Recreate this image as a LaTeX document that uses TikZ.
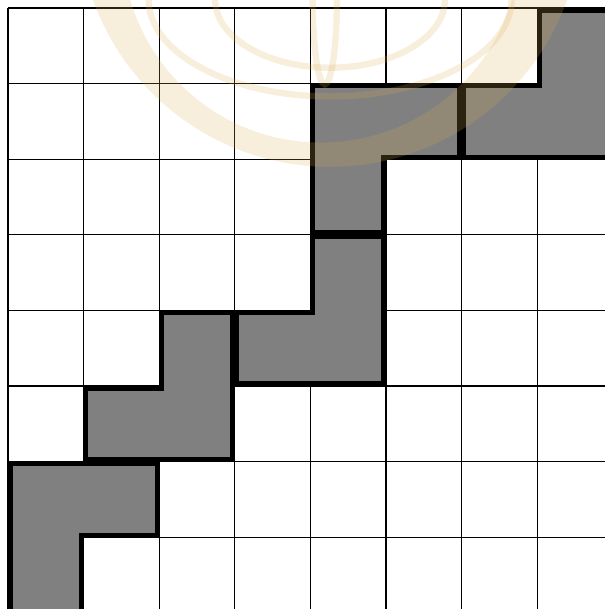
\documentclass[tikz,border=0pt]{standalone}
\usepackage{tikz}

\begin{document}
\begin{tikzpicture}[gridline/.style={draw=black,line width=0.5pt},
                    piece/.style={draw=black,fill=gray,line width=1.8pt,line join=miter},
                    wm/.style={fill={rgb,255:red,220;green,172;blue,80},opacity=0.2},
                    wmline/.style={draw={rgb,255:red,220;green,172;blue,80},opacity=0.2,line width=2.4pt}]
  \useasboundingbox (-0.106,0.05) rectangle (7.897,8.106);
  \clip (-0.106,0.05) rectangle (7.897,8.106);
  \draw[gridline] (0,-0.5) grid (8.5,8);
  % the five L pieces, from bottom left to top right
  \draw[piece] (0.03,-0.3)--(0.03,1.97)--(1.97,1.97)--(1.97,1.03)--(0.97,1.03)--(0.97,-0.3)--cycle;
  \draw[piece] (1.03,2.03)--(2.97,2.03)--(2.97,3.97)--(2.03,3.97)--(2.03,2.97)--(1.03,2.97)--cycle;
  \draw[piece] (3.03,3.03)--(4.97,3.03)--(4.97,4.97)--(4.03,4.97)--(4.03,3.97)--(3.03,3.97)--cycle;
  \draw[piece] (4.03,5.03)--(4.97,5.03)--(4.97,6.03)--(5.97,6.03)--(5.97,6.97)--(4.03,6.97)--cycle;
  \draw[piece] (6.03,6.03)--(8.3,6.03)--(8.3,7.97)--(7.03,7.97)--(7.03,6.97)--(6.03,6.97)--cycle;
  % faint logo on top
  \fill[wm,even odd rule] (4.26,9.23) circle (3.33) (4.14,8.85) circle (2.63);
  \draw[wmline] (4.19,8.11) ellipse (0.16 and 1.12);
  \draw[wmline] (4.26,8.11) ellipse (1.52 and 0.9);
  \draw[wmline] (4.26,8.11) ellipse (2.4 and 1.28);
\end{tikzpicture}
\end{document}
